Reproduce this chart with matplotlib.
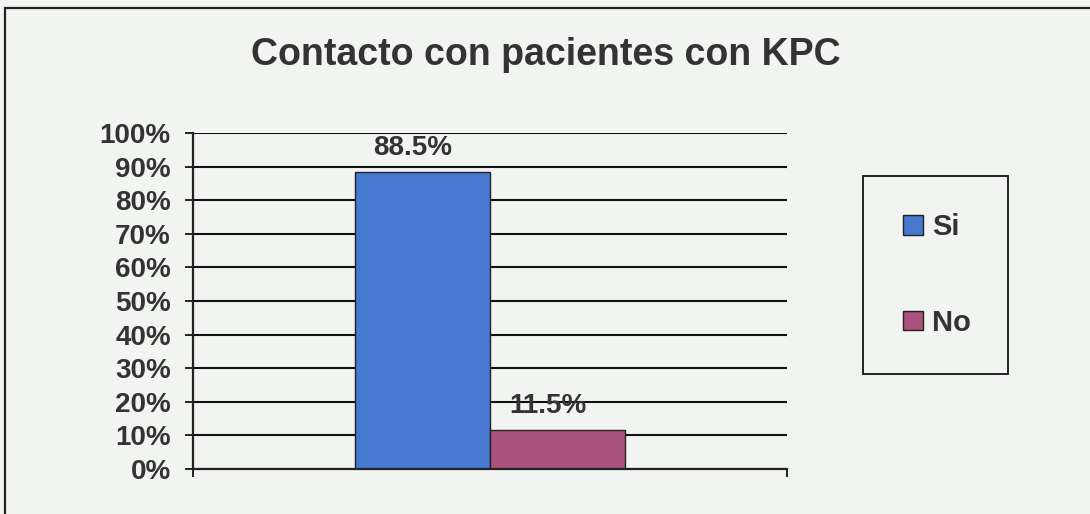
import matplotlib.pyplot as plt
from matplotlib.patches import Rectangle

categories = ["Si", "No"]
values = [88.5, 11.5]
labels = ["88.5%", "11.5%"]
yticks = [0, 10, 20, 30, 40, 50, 60, 70, 80, 90, 100]
colors = ["#4679cf", "#a9527e"]

plt.rcParams["font.family"] = ["Liberation Sans", "DejaVu Sans"]
plt.rcParams["font.weight"] = "bold"

bg = "#f2f4f1"
ink = "#333333"

fig = plt.figure(figsize=(10.9, 5.14), dpi=100, facecolor=bg)
W, H = 1090, 514

# outer frame of the chart (runs off the right and bottom of the scan)
fig.patches.append(Rectangle((5 / W, -0.05), 1.1, 1 - 8 / H + 0.05,
                             transform=fig.transFigure, fill=False,
                             edgecolor="#222222", linewidth=1.6))

ax = fig.add_axes([193 / W, 1 - 469 / H, (787 - 193) / W, (469 - 133) / H])
ax.set_facecolor(bg)

width = 0.4545
xpos = [-width / 2, width / 2]
bars = []
for x, v, c, name in zip(xpos, values, colors, categories):
    b = ax.bar(x, v, width=width, color=c, edgecolor="#222222",
               linewidth=1.0, zorder=3, label=name)
    bars.append(b)

for x, v, lab in zip(xpos, values, labels):
    ax.annotate(lab, (x, v), xytext=(-7, 8), textcoords="offset points",
                ha="center", va="bottom", fontsize=20, color=ink,
                fontweight="bold")

ax.set_xlim(-1, 1)
ax.set_ylim(0, 100)
ax.set_yticks(yticks)
ax.set_yticklabels([f"{t}%" for t in yticks])
ax.set_xticks([-1, 1])
ax.set_xticklabels(["", ""])
ax.tick_params(axis="y", direction="out", length=6, width=1.4,
               color="#222222", labelsize=20, labelcolor=ink, pad=10)
ax.tick_params(axis="x", direction="out", length=6, width=1.4,
               color="#222222")
for lab in ax.get_yticklabels():
    lab.set_fontweight("bold")

ax.grid(axis="y", color="#111111", linewidth=1.5, zorder=0)
ax.set_axisbelow(True)
for s in ["top", "right"]:
    ax.spines[s].set_visible(False)
for s in ["left", "bottom"]:
    ax.spines[s].set_color("#222222")
    ax.spines[s].set_linewidth(1.6)
    ax.spines[s].set_zorder(4)

fig.text(546 / W, 1 - 65 / H, "Contacto con pacientes con KPC",
         ha="center", va="baseline", fontsize=27, fontweight="bold",
         color=ink)

# legend box
fig.patches.append(Rectangle((863 / W, 1 - 374 / H), (1008 - 863) / W,
                             (374 - 176) / H, transform=fig.transFigure,
                             fill=False, edgecolor="#222222", linewidth=1.4))
leg = fig.legend(handles=[b[0] for b in bars], labels=categories,
                 loc="center", bbox_to_anchor=(937 / W, 1 - 275 / H),
                 frameon=False, fontsize=21, handlelength=0.7,
                 handleheight=0.65, handletextpad=0.3, labelspacing=2.3)
for t in leg.get_texts():
    t.set_color(ink)
    t.set_fontweight("bold")

fig.savefig("out.png", dpi=100, facecolor=bg)
